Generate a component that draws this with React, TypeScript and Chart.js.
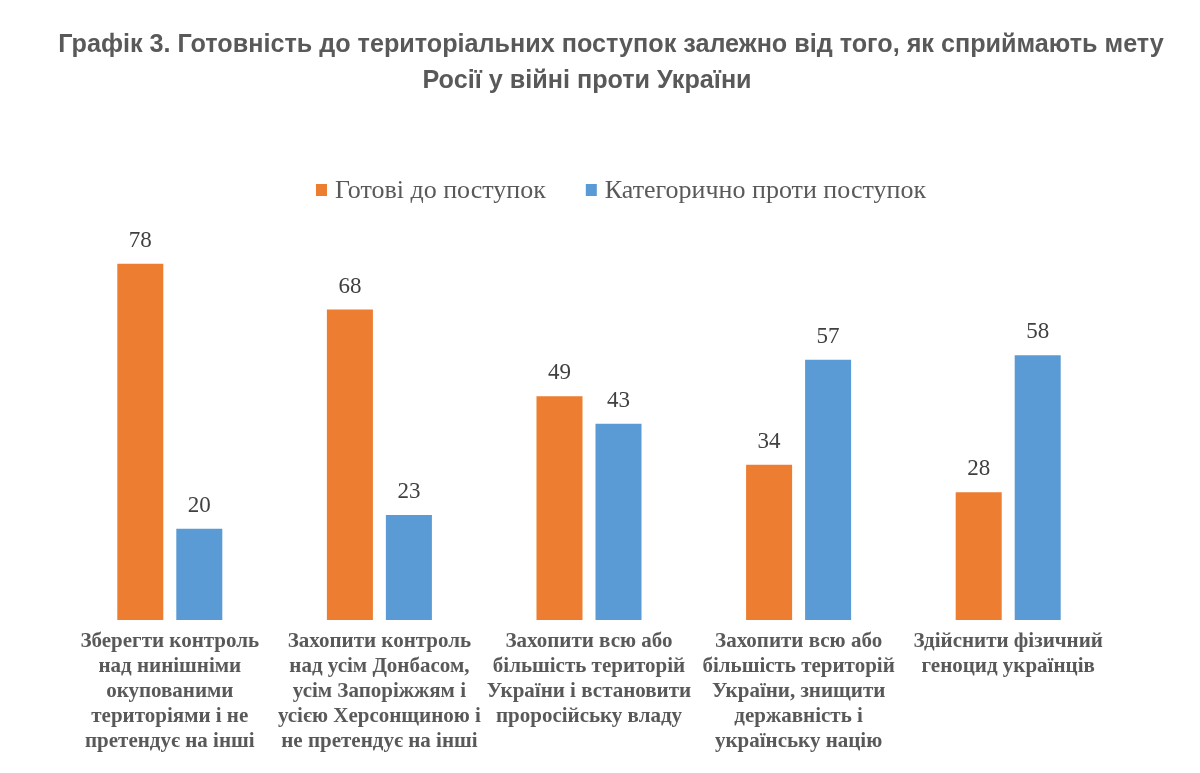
import React, { useEffect, useRef } from "react";
import { Chart, registerables } from "chart.js";

Chart.register(...registerables);

const titleLines = [
  "Графік 3. Готовність до територіальних поступок залежно від того, як сприймають мету",
  "Росії у війні проти України",
];

const categories: string[][] = [
  ["Зберегти контроль", "над нинішніми", "окупованими", "територіями і не", "претендує на інші"],
  ["Захопити контроль", "над усім Донбасом,", "усім Запоріжжям і", "усією Херсонщиною і", "не претендує на інші"],
  ["Захопити всю або", "більшість територій", "України і встановити", "проросійську владу"],
  ["Захопити всю або", "більшість територій", "України, знищити", "державність і", "українську націю"],
  ["Здійснити фізичний", "геноцид українців"],
];

const seriesNames = ["Готові до поступок", "Категорично проти поступок"];
const readyValues = [78, 68, 49, 34, 28];
const againstValues = [20, 23, 43, 57, 58];

const colors = ["#ED7D31", "#5B9BD5"];

const SERIF = '"Liberation Serif", "Times New Roman", serif';
const SANS = '"Liberation Sans", Arial, sans-serif';

const valueLabels = {
  id: "valueLabels",
  afterDatasetsDraw(chart: any) {
    const ctx = chart.ctx;
    ctx.save();
    ctx.font = `23px ${SERIF}`;
    ctx.fillStyle = "#404040";
    ctx.textAlign = "center";
    ctx.textBaseline = "middle";
    chart.data.datasets.forEach((ds: any, di: number) => {
      const meta = chart.getDatasetMeta(di);
      meta.data.forEach((bar: any, i: number) => {
        ctx.fillText(String(ds.data[i]), bar.x, bar.y - 23);
      });
    });
    ctx.restore();
  },
};

const headerPlugin = {
  id: "header",
  afterDraw(chart: any) {
    const ctx = chart.ctx;
    ctx.save();
    // title
    ctx.font = `bold 25.2px ${SANS}`;
    ctx.fillStyle = "#595959";
    ctx.textAlign = "center";
    ctx.textBaseline = "middle";
    ctx.fillText(titleLines[0], 611, 45.5);
    ctx.fillText(titleLines[1], 587, 81);
    // legend
    ctx.font = `26px ${SERIF}`;
    const box = 11;
    const gap = 8;
    const itemGap = 40;
    const widths = chart.data.datasets.map((ds: any) => ctx.measureText(ds.label).width);
    const total = widths.reduce((a: number, w: number) => a + box + gap + w, 0) + itemGap * (widths.length - 1);
    let x = 621 - total / 2;
    const y = 190;
    ctx.textAlign = "left";
    chart.data.datasets.forEach((ds: any, i: number) => {
      ctx.fillStyle = ds.backgroundColor;
      ctx.fillRect(x, y - 6, box, 12);
      ctx.fillStyle = "#595959";
      ctx.fillText(ds.label, x + box + gap, y + 1);
      x += box + gap + widths[i] + itemGap;
    });
    ctx.restore();
  },
};

export default function App() {
  const ref = useRef<HTMLCanvasElement>(null);
  useEffect(() => {
    document.body.style.margin = "0";
    const chart = new Chart(ref.current!, {
      type: "bar",
      data: {
        labels: categories,
        datasets: [
          { label: seriesNames[0], data: readyValues, backgroundColor: colors[0] },
          { label: seriesNames[1], data: againstValues, backgroundColor: colors[1] },
        ],
      },
      options: {
        animation: false,
        responsive: false,
        maintainAspectRatio: false,
        layout: { padding: { left: 65, right: 87, top: 209, bottom: 18 } },
        datasets: {
          bar: { categoryPercentage: 0.563, barPercentage: 0.78 },
        },
        plugins: {
          title: { display: false },
          legend: { display: false },
          tooltip: { enabled: false },
        },
        scales: {
          x: {
            grid: { display: false },
            border: { display: false },
            ticks: {
              color: "#595959",
              font: { family: SERIF, size: 21, weight: "bold", lineHeight: 1.19 },
              maxRotation: 0,
              autoSkip: false,
              padding: 1,
            },
          },
          y: {
            display: false,
            min: 0,
            max: 90,
          },
        },
      },
      plugins: [valueLabels, headerPlugin],
    });
    return () => chart.destroy();
  }, []);
  return <canvas ref={ref} width={1200} height={773} style={{ display: "block" }} />;
}
